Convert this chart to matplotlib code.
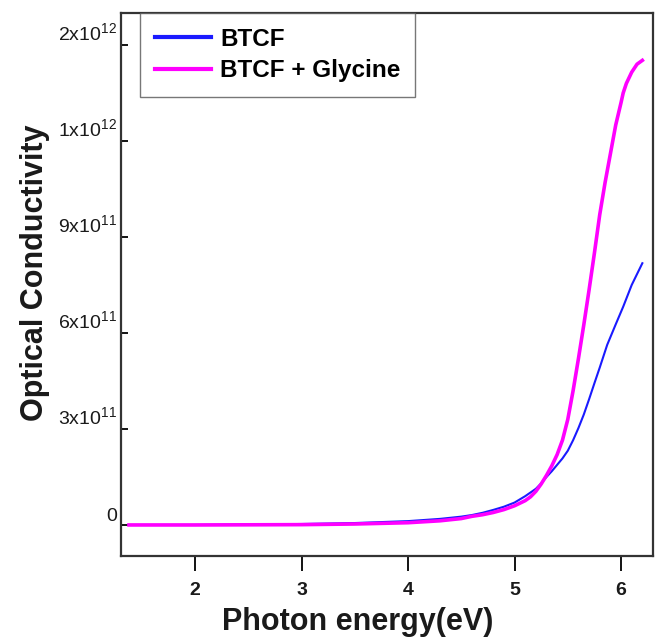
import numpy as np
import matplotlib
matplotlib.use("Agg")
import matplotlib.pyplot as plt

plt.rcParams['font.family'] = ['Liberation Sans', 'DejaVu Sans']
plt.rcParams['mathtext.fontset'] = 'custom'
plt.rcParams['mathtext.rm'] = 'Liberation Sans'

# valeurs (conductivite en unites de 1e12)
energie_btcf = [1.38, 2.0, 3.0, 3.5, 4.0, 4.3, 4.5, 4.6, 4.7, 4.8, 4.9, 5.0, 5.1,
                5.2, 5.25, 5.3, 5.35, 5.4, 5.45, 5.5, 5.55, 5.6, 5.65, 5.7, 5.75,
                5.8, 5.87, 5.95, 6.02, 6.1, 6.2]
sigma_btcf = [0.0, 0.0, 0.003, 0.006, 0.012, 0.019, 0.026, 0.031, 0.038, 0.047,
              0.057, 0.070, 0.090, 0.113, 0.130, 0.150, 0.168, 0.188, 0.208,
              0.232, 0.265, 0.303, 0.345, 0.393, 0.443, 0.492, 0.563, 0.627,
              0.682, 0.750, 0.818]

energie_gly = [1.38, 2.0, 3.0, 3.5, 4.0, 4.3, 4.5, 4.6, 4.7, 4.8, 4.9, 5.0, 5.1,
               5.15, 5.2, 5.25, 5.3, 5.35, 5.4, 5.45, 5.5, 5.55, 5.6, 5.65, 5.7,
               5.75, 5.8, 5.85, 5.9, 5.95, 6.0, 6.02, 6.05, 6.1, 6.15, 6.2]
sigma_gly = [0.0, 0.0, 0.001, 0.003, 0.007, 0.013, 0.020, 0.027, 0.032, 0.039,
             0.048, 0.060, 0.076, 0.088, 0.105, 0.128, 0.155, 0.185, 0.220,
             0.265, 0.330, 0.420, 0.520, 0.625, 0.735, 0.850, 0.970, 1.070,
             1.160, 1.250, 1.320, 1.350, 1.380, 1.415, 1.440, 1.452]

yticks = [0, 0.3e12, 0.6e12, 0.9e12, 1.2e12, 1.5e12]
ytick_labels = ['0', r'3x10$^{11}$', r'6x10$^{11}$', r'9x10$^{11}$',
                r'1x10$^{12}$', r'2x10$^{12}$']
xticks = [2, 3, 4, 5, 6]

fig = plt.figure(figsize=(6.57, 6.39), dpi=100)
ax = fig.add_axes([121/657, 1 - 556/639, 532/657, 543/639])

ax.plot(energie_btcf, np.array(sigma_btcf) * 1e12, color='#1a1aff', lw=1.5, label='BTCF')
ax.plot(energie_gly, np.array(sigma_gly) * 1e12, color='#ff00ff', lw=2.6, label='BTCF + Glycine')

ax.set_xlim(1.305, 6.30)
ax.set_ylim(-0.97e11, 1.6e12)

ax.set_xticks(xticks)
ax.set_xticklabels([str(v) for v in xticks], fontsize=14, fontweight='bold', color='#1a1a1a')
ax.set_yticks(yticks)
ax.set_yticklabels(ytick_labels, fontsize=14, color='#1a1a1a', va='bottom')

ax.tick_params(axis='x', direction='out', length=11, width=1.3, pad=8, top=False)
ax.tick_params(axis='y', direction='in', length=5, width=1.3, pad=3, right=False)
ax.minorticks_off()

for s in ax.spines.values():
    s.set_linewidth(1.6)
    s.set_color('#333333')

ax.set_xlabel('Photon energy(eV)', fontsize=22, fontweight='bold', color='#1a1a1a')
ax.set_ylabel('Optical Conductivity', fontsize=22, fontweight='bold', color='#1a1a1a')
ax.xaxis.set_label_coords(0.444, -0.094)
ax.yaxis.set_label_coords(-0.134, 0.521)

leg = ax.legend(loc='upper left', bbox_to_anchor=(0.036, 1.0), borderaxespad=0,
                prop={'size': 17.5, 'weight': 'bold'}, frameon=True, fancybox=False,
                handlelength=2.3, handletextpad=0.4, borderpad=0.6, labelspacing=0.35)
leg.get_frame().set_edgecolor('#555555')
leg.get_frame().set_linewidth(1.0)
for h in leg.get_lines():
    h.set_linewidth(3)

fig.savefig('out.png', dpi=100)
